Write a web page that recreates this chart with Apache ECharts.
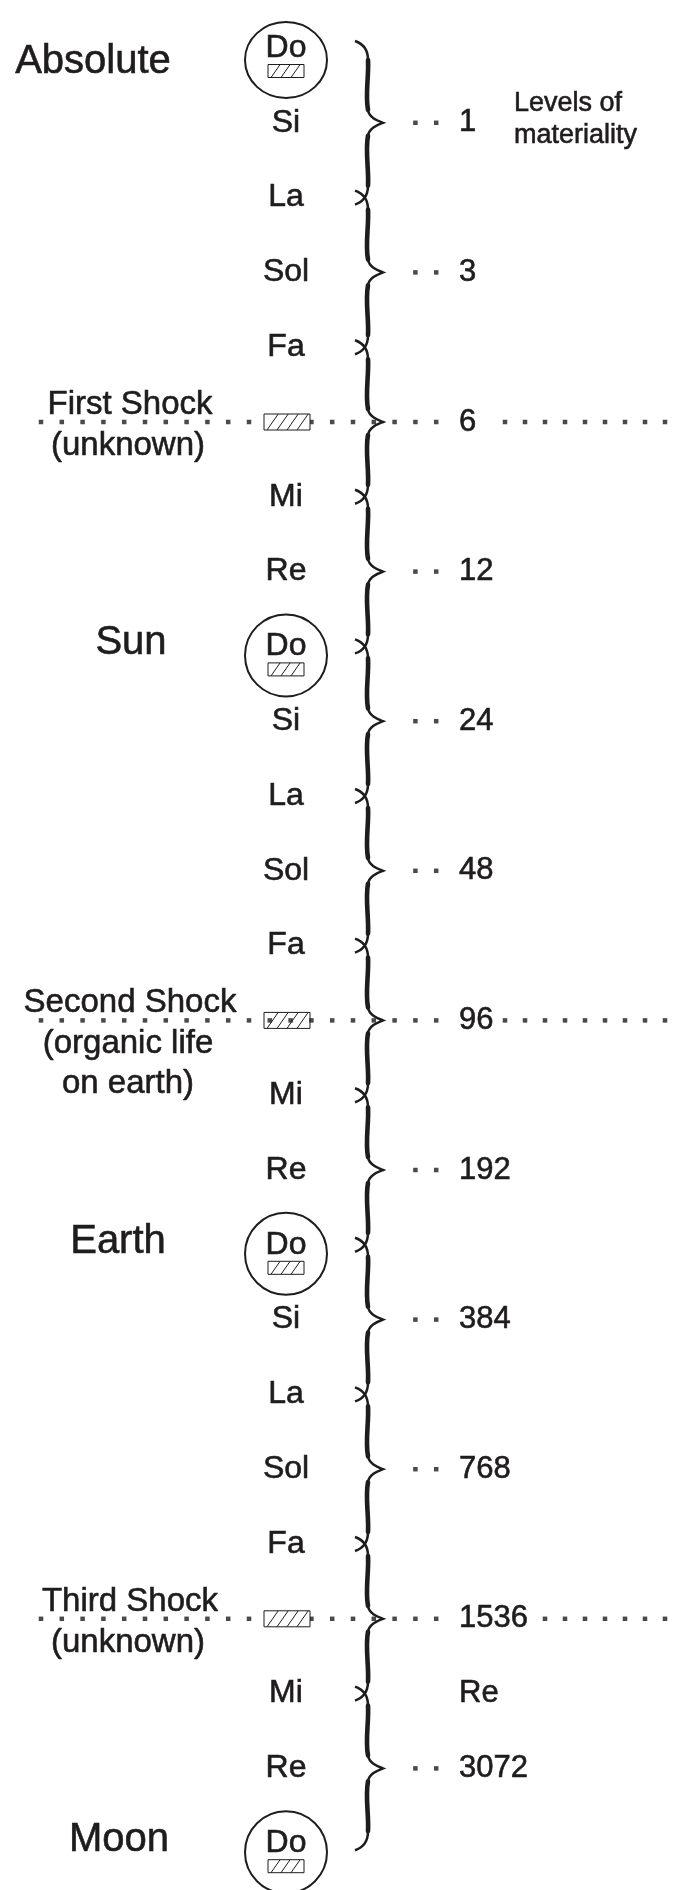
<!DOCTYPE html>
<html><head><meta charset="utf-8">
<script src="https://cdn.jsdelivr.net/npm/echarts@6.0.0/dist/echarts.min.js"></script>
<style>html,body{margin:0;padding:0;background:#fff}#c{width:697px;height:1890px}</style>
</head><body><div id="c"></div>
<script>
// ---------- data ----------
const notes = ['Do','Si','La','Sol','Fa',null,'Mi','Re','Do','Si','La','Sol','Fa',null,'Mi','Re','Do','Si','La','Sol','Fa',null,'Mi','Re','Do'];
const worlds = ['Absolute','Sun','Earth','Moon'];
const worldRows = [0,8,16,24];
const levelRows = [1,3,5,7,9,11,13,15,17,19,21,23];
const levels = [1,3,6,12,24,48,96,192,384,768,1536,3072];
const shockRows = [5,13,21];
const shockTitles = ['First Shock','Second Shock','Third Shock'];
const shockNotes = [['(unknown)'],['(organic life','on earth)'],['(unknown)']];
const extraRows = [22];
const extraLabels = ['Re'];
const axisTitle = ['Levels of','materiality'];

// ---------- layout ----------
const W=697,H=1890,ROW0=48,STEP=74.8;
const INK='#1f1c1d';
const FONT='"Liberation Sans", Arial, Helvetica, sans-serif';
const X={note:286, brace:368, tip:383, hook:355, num:459, levels:514, dotStart:41, dotStep:20.8, rDot:505, rDotEnd:675};
const worldPos=[[93,14],[131,-3],[118,-3],[119,-3]];
const FS={world:40, note:32, num:31, shock:33, levels:27};

function txt(x,y,s,size,align){
  return {type:'text', x:x, y:y, style:{text:s, fill:INK, stroke:INK, lineWidth:0.6, fontSize:size, fontFamily:FONT,
    textAlign:align||'center', textVerticalAlign:'middle', align:align||'center', verticalAlign:'middle'}};
}
function hatch(cx,cy,w,h,fill){
  const x0=cx-w/2,y0=cy-h/2;
  const ch=[{type:'rect',shape:{x:x0,y:y0,width:w,height:h},style:{fill:fill||'none',stroke:INK,lineWidth:1}}];
  const dx=h*0.7;
  for(let a=x0+3;a+dx<=x0+w-1;a+=10){
    ch.push({type:'line',shape:{x1:a,y1:y0+h,x2:a+dx,y2:y0},style:{stroke:INK,lineWidth:1}});
  }
  return ch;
}

const dots=[];
levelRows.forEach((r,i)=>{
  const isShock=shockRows.includes(r);
  for(let k=(isShock?0:18);k<=19;k++) dots.push([X.dotStart+k*X.dotStep,r]);
  if(isShock){
    const end=X.num+String(levels[i]).length*FS.num*0.556+8;
    for(let x=X.rDot;x<=X.rDotEnd;x+=20) if(x>=end) dots.push([x,r]);
  }
});

const chart=echarts.init(document.getElementById('c'),null,{renderer:'canvas'});
chart.setOption({
  animation:false,
  grid:{left:0,right:0,top:0,bottom:0},
  xAxis:{type:'value',min:0,max:W,show:false},
  yAxis:{type:'value',inverse:true,min:-ROW0/STEP,max:(H-ROW0)/STEP,show:false},
  series:[
    {type:'scatter',data:dots,symbol:'rect',symbolSize:[4.5,4.5],itemStyle:{color:INK},silent:true,z:2},
    {type:'custom',z:3,data:levelRows.map(r=>[r]),renderItem:function(p,api){
      const t=api.value(0);
      const yT=api.coord([X.brace,t-1])[1],yM=api.coord([X.brace,t])[1],yB=api.coord([X.brace,t+1])[1];
      const mx=api.coord([X.brace,t])[0],tx=api.coord([X.tip,t])[0],hx=api.coord([X.hook,t])[0];
      const thin='M'+hx+' '+(yT-7)+' C'+(hx+6)+' '+(yT-5)+' '+mx+' '+(yT-1)+' '+mx+' '+(yT+12)+
        ' C'+(mx+1)+' '+(yT+28)+' '+(mx-3)+' '+(yM-28)+' '+mx+' '+(yM-13)+
        ' C'+(mx+1)+' '+(yM-5)+' '+(tx-5)+' '+(yM-2)+' '+tx+' '+yM+
        ' C'+(tx-5)+' '+(yM+2)+' '+(mx+1)+' '+(yM+5)+' '+mx+' '+(yM+13)+
        ' C'+(mx-3)+' '+(yM+28)+' '+(mx+1)+' '+(yB-28)+' '+mx+' '+(yB-12)+
        ' C'+mx+' '+(yB+1)+' '+(hx+6)+' '+(yB+5)+' '+hx+' '+(yB+7);
      const thick='M'+mx+' '+(yT+12)+' C'+(mx+1)+' '+(yT+28)+' '+(mx-3)+' '+(yM-28)+' '+mx+' '+(yM-13)+
        ' M'+mx+' '+(yM+13)+' C'+(mx-3)+' '+(yM+28)+' '+(mx+1)+' '+(yB-28)+' '+mx+' '+(yB-12);
      return {type:'group',children:[
        {type:'path',shape:{pathData:thin},style:{fill:'none',stroke:INK,lineWidth:2.5}},
        {type:'path',shape:{pathData:thick},style:{fill:'none',stroke:INK,lineWidth:4.6,lineCap:'round'}}
      ]};
    }},
    {type:'custom',z:4,data:notes.map((n,i)=>[i]).filter(d=>notes[d[0]]!==null),renderItem:function(p,api){
      const r=api.value(0);const c=api.coord([X.note,r]);
      return txt(c[0],c[1],notes[r],FS.note);
    }},
    {type:'custom',z:4,data:worldRows.map(r=>[r]),renderItem:function(p,api){
      const r=api.value(0);const c=api.coord([X.note,r]);
      const top=p.dataIndex===0;
      const ch=[{type:'ellipse',shape:{cx:c[0],cy:c[1]+(top?12:9),rx:41,ry:top?38:41},style:{fill:'none',stroke:INK,lineWidth:2}}];
      hatch(c[0],c[1]+23,36,13).forEach(e=>ch.push(e));
      const wp=worldPos[p.dataIndex];const cw=api.coord([wp[0],r]);
      ch.push(txt(cw[0],cw[1]+wp[1],worlds[p.dataIndex],FS.world));
      return {type:'group',children:ch};
    }},
    {type:'custom',z:5,data:shockRows.map(r=>[r]),renderItem:function(p,api){
      const r=api.value(0);const c=api.coord([X.note,r]);const i=p.dataIndex;
      const ch=hatch(c[0]+1,c[1],46,16,i===1?'none':'#fff');
      const cl=api.coord([130,r]);
      ch.push(txt(cl[0],cl[1]-17,shockTitles[i],FS.shock));
      shockNotes[i].forEach((s,j)=>ch.push(txt(cl[0]-2,cl[1]+24+j*40,s,FS.shock)));
      return {type:'group',children:ch};
    }},
    {type:'custom',z:4,data:levelRows.map(r=>[r]),renderItem:function(p,api){
      const r=api.value(0);const c=api.coord([X.num,r]);
      return txt(c[0],c[1],String(levels[p.dataIndex]),FS.num,'left');
    }},
    {type:'custom',z:4,data:extraRows.map(r=>[r]),renderItem:function(p,api){
      const r=api.value(0);const c=api.coord([X.num,r]);
      return txt(c[0],c[1],extraLabels[p.dataIndex],FS.num,'left');
    }},
    {type:'custom',z:4,data:[[levelRows[0]]],renderItem:function(p,api){
      const c=api.coord([X.levels,api.value(0)]);
      return {type:'group',children:[txt(c[0],c[1]-19,axisTitle[0],FS.levels,'left'),txt(c[0],c[1]+13,axisTitle[1],FS.levels,'left')]};
    }}
  ]
});
</script></body></html>
